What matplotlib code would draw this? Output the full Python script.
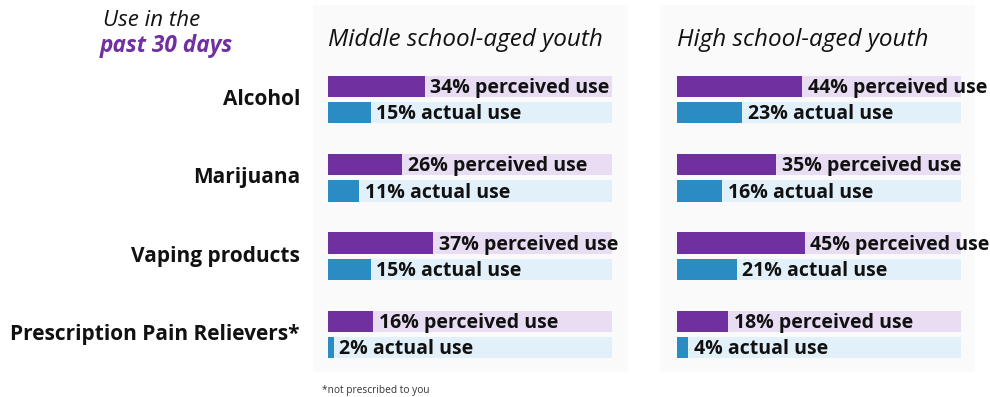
import matplotlib.pyplot as plt
from matplotlib.patches import Rectangle

# %% Data
substances = ['Alcohol', 'Marijuana', 'Vaping products',
              'Prescription Pain Relievers*']
groups = ['Middle school-aged youth', 'High school-aged youth']
perceived_ms = [34, 26, 37, 16]
actual_ms = [15, 11, 15, 2]
perceived_hs = [44, 35, 45, 18]
actual_hs = [23, 16, 21, 4]

PURPLE = '#7030a0'
BLUE = '#2b8cc4'
PURPLE_BG = '#e9ddf4'
BLUE_BG = '#e2f0fa'
FONT = 'Open Sans'

W, H = 990, 397
fig = plt.figure(figsize=(W / 100, H / 100), dpi=100)
fig.patch.set_facecolor('white')

# faint panel backgrounds
for x0 in (313, 660):
    fig.patches.append(Rectangle((x0 / W, 1 - 372 / H), 315 / W, 367 / H,
                                 transform=fig.transFigure,
                                 facecolor='#fafafb', edgecolor='none',
                                 zorder=-5))

ax_bottom = 1 - 373.7 / H
ax_height = 313.4 / H
panels = [(328, perceived_ms, actual_ms), (677, perceived_hs, actual_hs)]

off = 0.169
bh = 0.27
for (x0, perc, act), title in zip(panels, groups):
    ax = fig.add_axes([x0 / W, ax_bottom, 284 / W, ax_height])
    ax.set_zorder(2)
    ax.patch.set_alpha(0)
    ypos = list(range(len(substances)))
    yp = [y - off for y in ypos]
    ya = [y + off for y in ypos]
    ax.barh(yp, [100] * len(yp), height=bh, color=PURPLE_BG, zorder=1)
    ax.barh(ya, [100] * len(ya), height=bh, color=BLUE_BG, zorder=1)
    ax.barh(yp, perc, height=bh, color=PURPLE, zorder=2)
    ax.barh(ya, act, height=bh, color=BLUE, zorder=2)
    # labels sit just right of each bar
    for y, v in zip(yp, perc):
        ax.text(v + 2, y + 0.02, f'{v}% perceived use', va='center',
                ha='left', fontsize=14, fontweight='bold', family=FONT,
                color='#111111', zorder=3, clip_on=False)
    for y, v in zip(ya, act):
        ax.text(v + 2, y + 0.02, f'{v}% actual use', va='center',
                ha='left', fontsize=14, fontweight='bold', family=FONT,
                color='#111111', zorder=3, clip_on=False)
    ax.set_xlim(0, 100)
    ax.set_ylim(3.5, -0.5)
    ax.axis('off')
    fig.text(x0 / W, 1 - 40 / H, title, ha='left', va='center',
             fontsize=17.5, style='italic', family=FONT, color='#111111')

# category labels
for i, name in enumerate(substances):
    yc = 99.5 + i * 78.3
    fig.text(300 / W, 1 - yc / H, name, ha='right', va='center',
             fontsize=15, fontweight='bold', family=FONT, color='#111111')

fig.text(103 / W, 1 - 21 / H, 'Use in the', ha='left', va='center',
         fontsize=16, style='italic', family=FONT, color='#111111')
fig.text(100 / W, 1 - 46 / H, 'past 30 days', ha='left', va='center',
         fontsize=16.3, style='italic', fontweight='bold', family=FONT,
         color=PURPLE)
fig.text(322 / W, 1 - 390 / H, '*not prescribed to you', ha='left',
         va='center', fontsize=7.3, family=FONT, color='#333333')

plt.savefig('out.png', dpi=100)
plt.close(fig)
